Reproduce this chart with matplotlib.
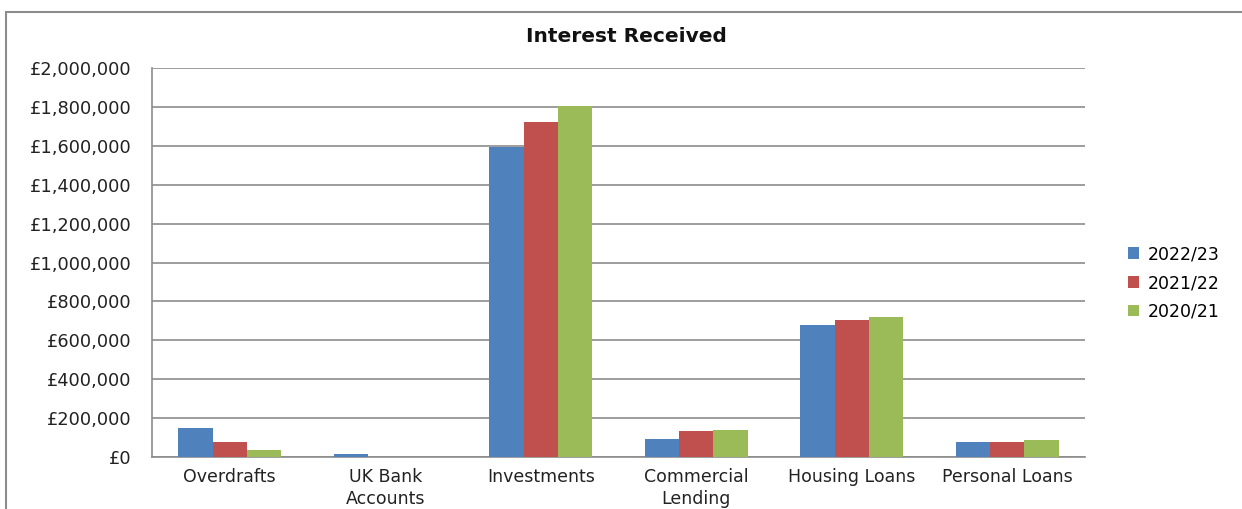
import matplotlib
matplotlib.use("Agg")
import matplotlib.pyplot as plt
import matplotlib.patches as patches
import matplotlib.ticker as ticker
import numpy as np

# Data
categories = ["Overdrafts", "UK Bank\nAccounts", "Investments",
              "Commercial\nLending", "Housing Loans", "Personal Loans"]
years = ["2022/23", "2021/22", "2020/21"]
vals_2223 = [148000, 15000, 1592000, 91000, 681000, 77000]
vals_2122 = [76000, 0, 1724000, 136000, 705000, 77000]
vals_2021 = [36000, 0, 1804000, 139000, 720000, 86000]
colors = ["#4F81BD", "#C0504D", "#9BBB59"]

plt.rcParams["font.family"] = ["DejaVu Sans"]

fig = plt.figure(figsize=(12.42, 5.09), dpi=100)
ax = fig.add_axes([152 / 1242, 1 - 457 / 509, (1085 - 152) / 1242, (457 - 68) / 509])

# Outer chart border
fig.patches.append(patches.Rectangle((6 / 1242, -0.1), 1.2, 1 - 12 / 509 + 0.1,
                                     transform=fig.transFigure, fill=False,
                                     edgecolor="#8c8c8c", linewidth=1.5))

x = np.arange(len(categories))
w = 0.22
for i, (vals, lab) in enumerate(zip([vals_2223, vals_2122, vals_2021], years)):
    ax.bar(x + (i - 1) * w, vals, width=w, color=colors[i], label=lab, zorder=3)

ax.set_xlim(-0.5, len(categories) - 0.5)
ax.set_ylim(0, 2000000)
ax.set_yticks(np.arange(0, 2000001, 200000))
ax.yaxis.set_major_formatter(ticker.FuncFormatter(lambda v, p: "£{:,.0f}".format(v)))
ax.grid(axis="y", color="#8c8c8c", linewidth=1.2, zorder=0)
ax.set_xticks(x)
ax.set_xticklabels(categories, fontsize=12.5, color="#222222", linespacing=1.3)
ax.tick_params(axis="y", labelsize=12.8, labelcolor="#222222", length=0, pad=15)
ax.tick_params(axis="x", length=0, pad=8)

for s in ["top", "right"]:
    ax.spines[s].set_visible(False)
for s in ["left", "bottom"]:
    ax.spines[s].set_color("#8c8c8c")
    ax.spines[s].set_linewidth(1.2)

fig.text(626 / 1242, 1 - 36 / 509, "Interest Received", ha="center", va="center",
         fontsize=14.5, fontweight="bold", color="#111111")

ax.legend(loc="center left", bbox_to_anchor=(1112 / 1242, 1 - 283 / 509),
          bbox_transform=fig.transFigure, frameon=False, fontsize=12.5,
          handlelength=0.65, handleheight=0.65, handletextpad=0.5, labelspacing=0.62)

fig.savefig("out.png", dpi=100)
